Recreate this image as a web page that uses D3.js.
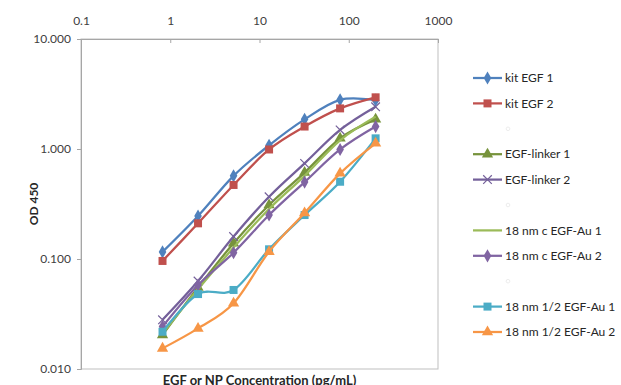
<!DOCTYPE html>
<html>
<head>
<meta charset="utf-8">
<script src="https://cdn.jsdelivr.net/npm/d3@7"></script>
<style>
  body { margin: 0; background: #fff; }
  svg { font-family: Lato, "Open Sans", sans-serif; }
</style>
</head>
<body>
<div id="chart"></div>
<script>
// concentrations (pg/mL), 2.5-fold dilution series
const conc = [0.8192, 2.048, 5.12, 12.8, 32, 80, 200];

const kitEGF1 = [0.116, 0.246, 0.57, 1.08, 1.86, 2.80, 2.78];
const kitEGF2 = [0.096, 0.211, 0.471, 0.99, 1.60, 2.34, 2.95];
const linker1 = [0.0204, 0.055, 0.139, 0.31, 0.61, 1.25, 1.86];
const linker2 = [0.028, 0.063, 0.160, 0.368, 0.74, 1.49, 2.42];
const cAu1 = [0.021, 0.053, 0.127, 0.285, 0.57, 1.20, 1.97];
const cAu2 = [0.0243, 0.058, 0.114, 0.251, 0.50, 0.99, 1.60];
const halfAu1 = [0.0218, 0.048, 0.0523, 0.1225, 0.251, 0.504, 1.25];
const halfAu2 = [0.0154, 0.0234, 0.0396, 0.1165, 0.262, 0.601, 1.127];

const xTicks = [0.1, 1, 10, 100, 1000];
const yTicks = [0.01, 0.1, 1, 10];

const width = 621, height = 385;
const margin = {top: 39, right: 183, bottom: 16, left: 81};

// series list (null = blank legend slot)
const seriesList = [
  {name: "kit EGF 1", values: kitEGF1, color: "#4F81BD", marker: "diamond"},
  {name: "kit EGF 2", values: kitEGF2, color: "#C0504D", marker: "square"},
  null,
  {name: "EGF-linker 1", values: linker1, color: "#77933C", marker: "triangle"},
  {name: "EGF-linker 2", values: linker2, color: "#74609A", marker: "x"},
  null,
  {name: "18 nm c EGF-Au 1", values: cAu1, color: "#9BBB59", marker: "none"},
  {name: "18 nm c EGF-Au 2", values: cAu2, color: "#8064A2", marker: "diamond"},
  null,
  {name: "18 nm 1/2 EGF-Au 1", values: halfAu1, color: "#4BACC6", marker: "square"},
  {name: "18 nm 1/2 EGF-Au 2", values: halfAu2, color: "#F79646", marker: "triangle"}
];

const svg = d3.select("#chart").append("svg")
  .attr("width", width)
  .attr("height", height);

const x = d3.scaleLog()
  .domain([0.1, 1000])
  .range([margin.left, width - margin.right]);

const y = d3.scaleLog()
  .domain([0.01, 10])
  .range([height - margin.bottom, margin.top]);

// plot frame
svg.append("rect")
  .attr("x", x(0.1)).attr("y", y(10))
  .attr("width", x(1000) - x(0.1))
  .attr("height", y(0.01) - y(10))
  .attr("fill", "none")
  .attr("stroke", "#BFBFBF");

// top x axis
const xAxisG = svg.append("g")
  .attr("transform", `translate(0, ${y(10)})`)
  .call(d3.axisTop(x).tickValues(xTicks).tickSize(-4).tickPadding(14).tickFormat(d => String(d)));
xAxisG.select(".domain").attr("stroke", "#A6A6A6");
xAxisG.selectAll(".tick line").attr("stroke", "#A6A6A6");
xAxisG.selectAll("text").attr("font-size", "12px").attr("fill", "#404040")
  .attr("font-family", "Lato, sans-serif");

// left y axis
const yAxisG = svg.append("g")
  .attr("transform", `translate(${x(0.1)}, 0)`)
  .call(d3.axisLeft(y).tickValues(yTicks).tickSize(4).tickPadding(6).tickFormat(d3.format(".3f")));
yAxisG.select(".domain").attr("stroke", "#A6A6A6");
yAxisG.selectAll(".tick line").attr("stroke", "#A6A6A6");
yAxisG.selectAll("text").attr("font-size", "12px").attr("fill", "#404040")
  .attr("font-family", "Lato, sans-serif");

// axis titles
svg.append("text")
  .attr("transform", `translate(38, ${(y(10) + y(0.01)) / 2}) rotate(-90)`)
  .attr("text-anchor", "middle")
  .attr("font-size", "12px")
  .attr("font-weight", "bold")
  .attr("fill", "#262626")
  .text("OD 450");

svg.append("text")
  .attr("x", (x(0.1) + x(1000)) / 2)
  .attr("y", 385)
  .attr("text-anchor", "middle")
  .attr("font-size", "13px")
  .attr("font-weight", "bold")
  .attr("fill", "#262626")
  .text("EGF or NP Concentration (pg/mL)");

function drawMarker(g, type, color, cx, cy) {
  if (type === "diamond") {
    g.append("path").attr("d", d3.symbol(d3.symbolDiamond, 50)())
      .attr("transform", `translate(${cx},${cy})`).attr("fill", color);
  } else if (type === "square") {
    g.append("path").attr("d", d3.symbol(d3.symbolSquare, 64)())
      .attr("transform", `translate(${cx},${cy})`).attr("fill", color);
  } else if (type === "triangle") {
    g.append("path").attr("d", d3.symbol(d3.symbolTriangle, 55)())
      .attr("transform", `translate(${cx},${cy})`).attr("fill", color);
  } else if (type === "x") {
    g.append("path").attr("d", d3.symbol(d3.symbolX, 50)())
      .attr("transform", `translate(${cx},${cy})`)
      .attr("fill", "none").attr("stroke", color).attr("stroke-width", 1.2);
  }
}

const line = d3.line()
  .x(d => x(d[0]))
  .y(d => y(d[1]))
  .curve(d3.curveCatmullRom.alpha(0));

const plotG = svg.append("g");
seriesList.forEach(s => {
  if (!s) return;
  const pts = conc.map((c, i) => [c, s.values[i]]);
  plotG.append("path")
    .datum(pts)
    .attr("fill", "none")
    .attr("stroke", s.color)
    .attr("stroke-width", 2.25)
    .attr("d", line);
  pts.forEach(p => drawMarker(plotG, s.marker, s.color, x(p[0]), y(p[1])));
});

// legend
const legend = svg.append("g");
const legTop = 78, legStep = 25.4;
seriesList.forEach((s, i) => {
  const ly = legTop + i * legStep;
  if (!s) {
    legend.append("circle").attr("cx", 508).attr("cy", ly).attr("r", 1.8)
      .attr("fill", "none").attr("stroke", "#EDEDED");
    return;
  }
  legend.append("line")
    .attr("x1", 473).attr("x2", 502)
    .attr("y1", ly).attr("y2", ly)
    .attr("stroke", s.color).attr("stroke-width", 2.25);
  drawMarker(legend, s.marker, s.color, 487.5, ly);
  legend.append("text")
    .attr("x", 505).attr("y", ly)
    .attr("dy", "0.35em")
    .attr("font-size", "12px")
    .attr("fill", "#262626")
    .text(s.name);
});
</script>
</body>
</html>
